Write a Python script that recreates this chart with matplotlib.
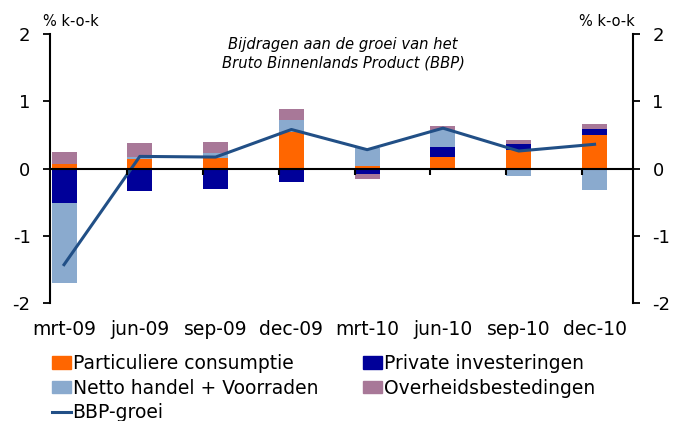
import numpy as np
import matplotlib
matplotlib.use("Agg")
import matplotlib.pyplot as plt
from matplotlib.patches import Patch
from matplotlib.lines import Line2D

quarters = ["mrt-09", "jun-09", "sep-09", "dec-09", "mrt-10", "jun-10", "sep-10", "dec-10"]
consumptie = [0.07, 0.14, 0.15, 0.55, 0.03, 0.17, 0.28, 0.50]
investeringen = [-0.52, -0.34, -0.30, -0.20, -0.085, 0.15, 0.09, 0.09]
netto_handel = [-1.19, 0.035, 0.08, 0.17, 0.27, 0.25, -0.11, -0.32]
overheid = [0.18, 0.20, 0.16, 0.16, -0.07, 0.065, 0.06, 0.065]
bbp_groei = [-1.43, 0.18, 0.17, 0.58, 0.28, 0.60, 0.26, 0.36]

series = [
    ("Particuliere consumptie", consumptie, "#FF6600"),
    ("Private investeringen", investeringen, "#000099"),
    ("Netto handel + Voorraden", netto_handel, "#8AAACE"),
    ("Overheidsbestedingen", overheid, "#A87898"),
]
line_color = "#214F86"

plt.rcParams["font.family"] = "DejaVu Sans"
plt.rcParams["axes.unicode_minus"] = False

fig = plt.figure(figsize=(6.74, 4.21), dpi=100)
ax = fig.add_axes([50 / 674, 1 - 303 / 421, 583 / 674, 269 / 421])

x = np.arange(len(quarters))
width = 0.33
pos_base = np.zeros(len(x))
neg_base = np.zeros(len(x))
for name, vals, color in series:
    v = np.asarray(vals, dtype=float)
    base = np.where(v >= 0, pos_base, neg_base)
    ax.bar(x, v, width, bottom=base, color=color, linewidth=0, zorder=2)
    pos_base += np.where(v >= 0, v, 0)
    neg_base += np.where(v < 0, v, 0)

ax.plot(x, bbp_groei, color=line_color, lw=2.2, zorder=4)

ax.set_xlim(-0.185, 7.507)
ax.set_ylim(-2, 2)

# y axes on both sides
ax.set_yticks([-2, -1, 0, 1, 2])
ax.yaxis.set_ticks_position("both")
ax.tick_params(axis="y", direction="out", length=5, width=1.3, labelsize=13,
               pad=9, labelright=True)
for side in ("left", "right"):
    ax.spines[side].set_linewidth(1.5)
for side in ("top", "bottom"):
    ax.spines[side].set_visible(False)

# category labels at bar centres, below the plot
ax.set_xticks(x)
ax.set_xticklabels(quarters)
ax.tick_params(axis="x", length=0, labelsize=13.5, pad=12)

# zero line with tick marks at the bar edges
zero = ax.secondary_xaxis(0, transform=ax.transData)
zero.set_xticks(x[1:] - width / 2)
zero.set_xticklabels([])
zero.tick_params(axis="x", direction="out", length=4, width=1.5)
zero.spines["bottom"].set_linewidth(1.5)
zero.set_zorder(5)

ax.text(-0.012, 1.045, "% k-o-k", transform=ax.transAxes, fontsize=10.5,
        ha="left", va="center")
ax.text(1.003, 1.045, "% k-o-k", transform=ax.transAxes, fontsize=10.5,
        ha="right", va="center")
ax.text(0.503, 0.926, "Bijdragen aan de groei van het\nBruto Binnenlands Product (BBP)",
        transform=ax.transAxes, fontsize=10.6, style="italic", ha="center",
        va="center", linespacing=1.3)

handles = [Patch(color=series[0][2]), Patch(color=series[2][2]),
           Line2D([], [], color=line_color, lw=2.2),
           Patch(color=series[1][2]), Patch(color=series[3][2])]
labels = [series[0][0], series[2][0], "BBP-groei", series[1][0], series[3][0]]
fig.legend(handles, labels, ncol=2, loc="upper left",
           bbox_to_anchor=(52 / 674, 1 - 354 / 421), frameon=False,
           fontsize=13.5, handlelength=1.0, handleheight=0.65,
           handletextpad=0.1, labelspacing=0.3, columnspacing=2.4,
           borderpad=0, borderaxespad=0)

fig.savefig("out.png", dpi=100)
